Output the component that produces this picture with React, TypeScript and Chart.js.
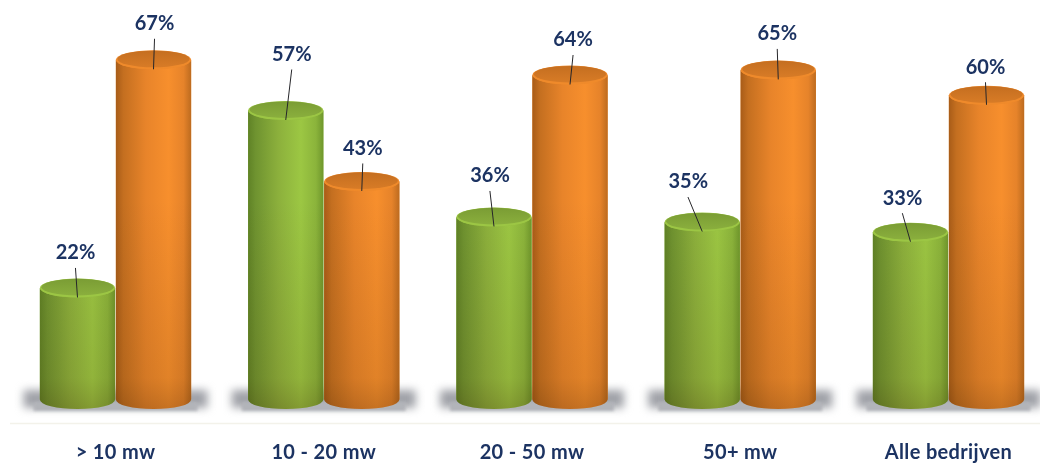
import React, { useEffect, useRef } from "react";
import { Chart, registerables } from "chart.js";

Chart.register(...registerables);

const categories = ["> 10 mw", "10 - 20 mw", "20 - 50 mw", "50+ mw", "Alle bedrijven"];
const greenValues = [22, 57, 36, 35, 33];
const orangeValues = [67, 43, 64, 65, 60];

// label offsets from the cylinder's centre, px (layout only)
const greenLabelOffsets = [[-2, -35], [6, -56], [-4, -41], [-14, -40], [-8, -34]];
const orangeLabelOffsets = [[1, -36], [1, -33], [3, -35], [-1, -36], [-1, -28]];

const NAVY = "#1c3362";
const FONT = "Lato, 'Open Sans', sans-serif";
const RY = 9.5;

const palette = [
  {
    base: "#8fb83e",
    side: [[0, "#5f8226"], [0.1, "#6f9330"], [0.4, "#8cb03c"], [0.7, "#9cc743"], [0.9, "#8bb43b"], [1, "#6f972c"]],
    cap: ["#7a9c34", "#8cb13e"],
    rim: "#9cc644",
  },
  {
    base: "#ef8a2a",
    side: [[0, "#a85c18"], [0.1, "#c46f20"], [0.4, "#e8842a"], [0.7, "#f78f2d"], [0.9, "#e6832a"], [1, "#bd6b1f"]],
    cap: ["#c46e20", "#da7d27"],
    rim: "#ef8a2b",
  },
];

const cylinderPlugin = {
  id: "cylinders",
  beforeDraw(chart: any) {
    chart.ctx.letterSpacing = "0.35px";
  },
  beforeDatasetsDraw(chart: any) {
    const ctx = chart.ctx;
    const first = chart.getDatasetMeta(0).data;
    const second = chart.getDatasetMeta(1).data;
    first.forEach((el: any, i: number) => {
      const cx = (el.x + second[i].x) / 2;
      ctx.save();
      ctx.filter = "blur(4.5px)";
      ctx.fillStyle = "#a0a2a8";
      ctx.fillRect(cx - 92, 390, 184, 18);
      ctx.restore();
      ctx.save();
      ctx.filter = "blur(1.5px)";
      ctx.fillStyle = "#b2b4b9";
      ctx.fillRect(cx - 82, 402, 164, 9);
      ctx.restore();
    });
    ctx.save();
    ctx.strokeStyle = "#f3f2ea";
    ctx.lineWidth = 1.5;
    ctx.beginPath();
    ctx.moveTo(10, 423.5);
    ctx.lineTo(1040, 423.5);
    ctx.stroke();
    ctx.restore();
  },
  afterDatasetsDraw(chart: any) {
    const ctx = chart.ctx;
    chart.data.datasets.forEach((_: any, d: number) => {
      const colors = palette[d];
      chart.getDatasetMeta(d).data.forEach((el: any) => {
        const { x, y, base, width } = el.getProps(["x", "y", "base", "width"], true);
        const rx = width / 2;
        const l = x - rx;
        const r = x + rx;
        const side = ctx.createLinearGradient(l, 0, r, 0);
        colors.side.forEach(([o, c]: any) => side.addColorStop(o, c));
        const shape = () => {
          ctx.beginPath();
          ctx.moveTo(l, y);
          ctx.lineTo(l, base);
          ctx.ellipse(x, base, rx, RY, 0, Math.PI, 0, true);
          ctx.lineTo(r, y);
          ctx.ellipse(x, y, rx, RY, 0, 0, Math.PI, false);
          ctx.closePath();
        };
        ctx.save();
        shape();
        ctx.fillStyle = side;
        ctx.fill();
        // darkening toward the foot of the column
        const shade = ctx.createLinearGradient(0, 200, 0, base + RY);
        shade.addColorStop(0, "rgba(70,40,0,0)");
        shade.addColorStop(0.85, "rgba(70,40,0,0.12)");
        shade.addColorStop(1, "rgba(60,30,0,0.26)");
        ctx.fillStyle = shade;
        ctx.fill();
        ctx.restore();
        // top cap
        ctx.save();
        ctx.beginPath();
        ctx.ellipse(x, y, rx, RY, 0, 0, Math.PI * 2);
        ctx.fillStyle = colors.rim;
        ctx.fill();
        ctx.beginPath();
        ctx.ellipse(x, y - 0.8, rx - 1.5, RY - 1.2, 0, 0, Math.PI * 2);
        const cap = ctx.createLinearGradient(0, y - RY, 0, y + RY);
        cap.addColorStop(0, colors.cap[0]);
        cap.addColorStop(1, colors.cap[1]);
        ctx.fillStyle = cap;
        ctx.fill();
        ctx.restore();
      });
    });
    // leader lines and value labels
    const offsets = [greenLabelOffsets, orangeLabelOffsets];
    chart.data.datasets.forEach((ds: any, d: number) => {
      chart.getDatasetMeta(d).data.forEach((el: any, i: number) => {
        const [dx, dy] = offsets[d][i];
        const lx = el.x + dx;
        const ly = el.y + dy;
        ctx.save();
        ctx.letterSpacing = "0px";
        ctx.strokeStyle = "#26262a";
        ctx.lineWidth = 1;
        ctx.beginPath();
        ctx.moveTo(lx + (dx > 4 ? 0 : dx * 0.02), ly + 15);
        ctx.lineTo(el.x, el.y + RY);
        ctx.stroke();
        ctx.fillStyle = NAVY;
        ctx.font = `bold 20px ${FONT}`;
        ctx.textAlign = "center";
        ctx.textBaseline = "middle";
        ctx.fillText(`${ds.data[i]}%`, lx, ly);
        ctx.restore();
      });
    });
  },
};

export default function App() {
  const ref = useRef<HTMLCanvasElement>(null);
  useEffect(() => {
    document.body.style.margin = "0";
    document.body.style.background = "#fff";
    const chart = new Chart(ref.current!, {
      type: "bar",
      data: {
        labels: categories,
        datasets: [
          { label: "Groen", data: greenValues, backgroundColor: palette[0].base, borderWidth: 0, clip: false },
          { label: "Oranje", data: orangeValues, backgroundColor: palette[1].base, borderWidth: 0, clip: false },
        ],
      } as any,
      options: {
        responsive: false,
        animation: false,
        events: [],
        categoryPercentage: 0.73,
        barPercentage: 0.99,
        layout: { padding: { left: 115.5, right: 91.5, top: 4, bottom: 0 } },
        plugins: { legend: { display: false }, tooltip: { enabled: false }, title: { display: false } },
        scales: {
          x: {
            offset: false,
            grid: { display: false, drawTicks: false },
            border: { display: false },
            afterFit: (s: any) => { s.height = 40; },
            ticks: {
              autoSkip: false,
              maxRotation: 0,
              padding: 18,
              color: NAVY,
              font: { family: FONT, size: 20, weight: "bold" },
            },
          },
          y: { display: false, min: -4.635, max: 78 },
        },
      } as any,
      plugins: [cylinderPlugin],
    });
    return () => chart.destroy();
  }, []);
  return <canvas ref={ref} width={1040} height={463} style={{ display: "block", filter: "blur(0.5px)" }} />;
}
